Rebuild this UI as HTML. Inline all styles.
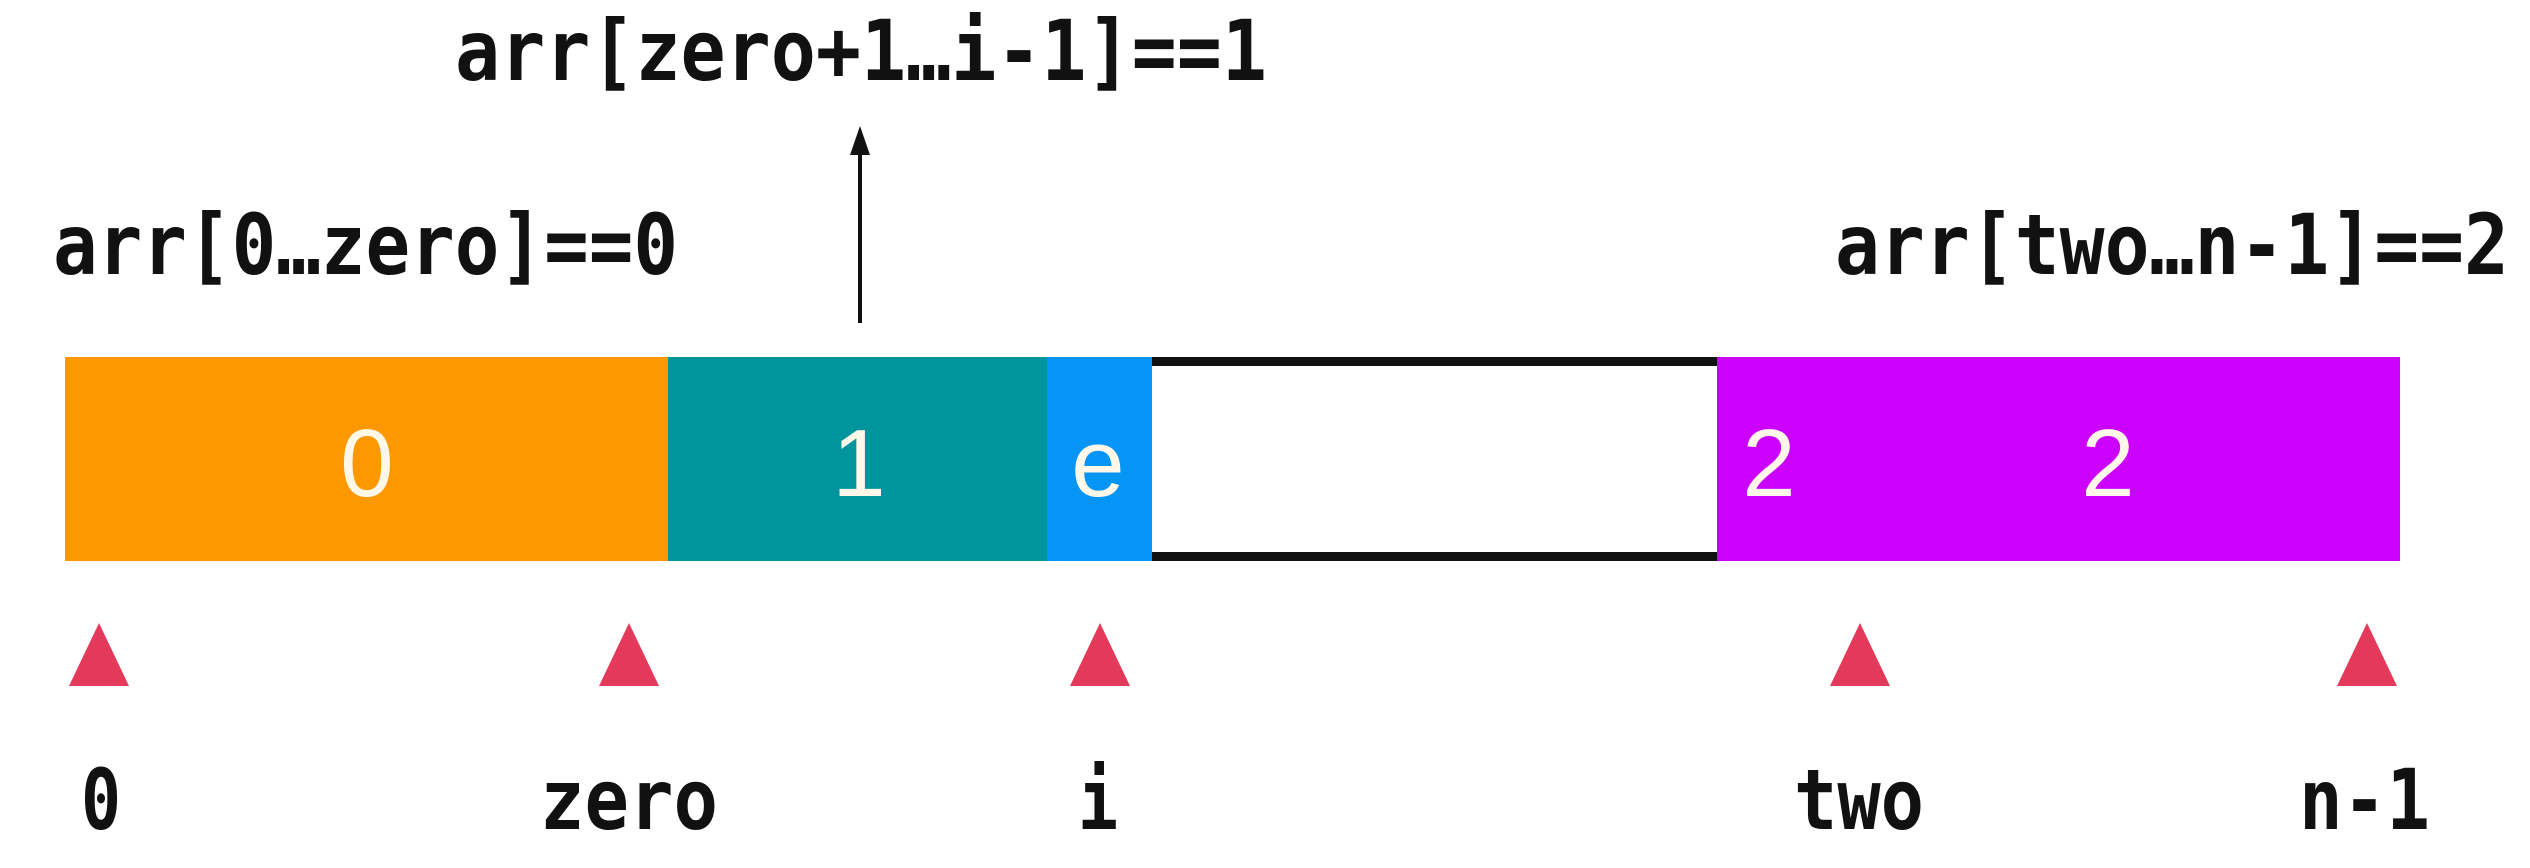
<!DOCTYPE html>
<html><head><meta charset="utf-8"><style>
html,body{margin:0;padding:0;background:#fff;}
svg{display:block;}
.m{font-family:"DejaVu Sans Mono","Liberation Mono",monospace;font-weight:bold;font-size:84px;fill:#111;}
.n{font-family:"Liberation Sans",sans-serif;font-size:96px;fill:#fff8e8;text-anchor:middle;}
</style></head><body>
<svg width="2530" height="868" viewBox="0 0 2530 868" xmlns="http://www.w3.org/2000/svg">
<rect x="0" y="0" width="2530" height="868" fill="#fff"/>
<text class="m" x="455" y="80" textLength="812" lengthAdjust="spacingAndGlyphs">arr[zero+1…i-1]==1</text>
<text class="m" x="53" y="274" textLength="625" lengthAdjust="spacingAndGlyphs">arr[0…zero]==0</text>
<text class="m" x="1835" y="274" textLength="674" lengthAdjust="spacingAndGlyphs">arr[two…n-1]==2</text>
<line x1="860" y1="323" x2="860" y2="150" stroke="#111" stroke-width="4"/>
<polygon points="860,126 850,155 870,155" fill="#111"/>
<rect x="65" y="357" width="605" height="204" fill="#fd9800"/>
<rect x="668" y="357" width="381" height="204" fill="#00949c"/>
<rect x="1047" y="357" width="105" height="204" fill="#0495f7"/>
<rect x="1152" y="357" width="566" height="9" fill="#111"/>
<rect x="1152" y="552" width="566" height="9" fill="#111"/>
<rect x="1717" y="357" width="683" height="204" fill="#cb00fd"/>
<text class="n" x="367" y="496">0</text>
<text class="n" x="859" y="496">1</text>
<text class="n" x="1098" y="496">e</text>
<text class="n" x="1769" y="496">2</text>
<text class="n" x="2108" y="496">2</text>
<g fill="#e33a5c">
<polygon points="99,623 69,686 129,686"/>
<polygon points="629,623 599,686 659,686"/>
<polygon points="1100,623 1070,686 1130,686"/>
<polygon points="1860,623 1830,686 1890,686"/>
<polygon points="2367,623 2337,686 2397,686"/>
</g>
<text class="m" x="81" y="829" textLength="40" lengthAdjust="spacingAndGlyphs">0</text>
<text class="m" x="540" y="829" textLength="178" lengthAdjust="spacingAndGlyphs">zero</text>
<text class="m" x="1078" y="829" textLength="40" lengthAdjust="spacingAndGlyphs">i</text>
<text class="m" x="1794" y="829" textLength="130" lengthAdjust="spacingAndGlyphs">two</text>
<text class="m" x="2299" y="829" textLength="131" lengthAdjust="spacingAndGlyphs">n-1</text>
</svg>
</body></html>
